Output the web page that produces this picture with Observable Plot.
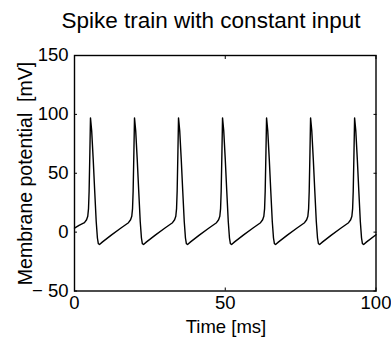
<!DOCTYPE html>
<html><head><meta charset="utf-8">
<script src="https://cdn.jsdelivr.net/npm/d3@7"></script>
<script src="https://cdn.jsdelivr.net/npm/@observablehq/plot@0.6"></script>
<style>
body{margin:0;background:#fff}
svg{font-family:"Liberation Sans",Arial,Helvetica,sans-serif}
</style>
</head><body><div id="chart"></div>
<script>
const titleText = "Spike train with constant input";
const xLabel = "Time [ms]";
const yLabel = "Membrane potential  [mV]";
const xTicks = [0, 50, 100];
const yTicks = [-50, 0, 50, 100, 150];

// time [ms]
const time = [
  0, 1.5, 3.3, 4.0, 4.4, 4.65, 4.85, 5.1, 5.3,
  5.7, 6.2, 6.7, 7.2, 7.6, 7.9, 8.3, 9.3, 12.3, 15.3, 17.9, 18.6, 19.0, 19.25, 19.45, 19.7, 19.9,
  20.3, 20.8, 21.3, 21.8, 22.2, 22.5, 22.9, 23.9, 26.9, 29.9, 32.5, 33.2, 33.6, 33.85, 34.05, 34.3, 34.5,
  34.9, 35.4, 35.9, 36.4, 36.8, 37.1, 37.5, 38.5, 41.5, 44.5, 47.1, 47.8, 48.2, 48.45, 48.65, 48.9, 49.1,
  49.5, 50.0, 50.5, 51.0, 51.4, 51.7, 52.1, 53.1, 56.1, 59.1, 61.7, 62.4, 62.8, 63.05, 63.25, 63.5, 63.7,
  64.1, 64.6, 65.1, 65.6, 66.0, 66.3, 66.7, 67.7, 70.7, 73.7, 76.3, 77.0, 77.4, 77.65, 77.85, 78.1, 78.3,
  78.7, 79.2, 79.7, 80.2, 80.6, 80.9, 81.3, 82.3, 85.3, 88.3, 90.9, 91.6, 92.0, 92.25, 92.45, 92.7, 92.9,
  93.3, 93.8, 94.3, 94.8, 95.2, 95.5, 95.9, 96.9, 100
];
// membrane potential [mV]
const voltage = [
  3.4, 5.8, 8.0, 10.5, 13.5, 20, 35, 68, 97,
  86, 62, 35, 9, -5, -9.8, -10.5, -8.3, -2.3, 3.3, 8.0, 10.5, 13.5, 20, 35, 68, 97,
  86, 62, 35, 9, -5, -9.8, -10.5, -8.3, -2.3, 3.3, 8.0, 10.5, 13.5, 20, 35, 68, 97,
  86, 62, 35, 9, -5, -9.8, -10.5, -8.3, -2.3, 3.3, 8.0, 10.5, 13.5, 20, 35, 68, 97,
  86, 62, 35, 9, -5, -9.8, -10.5, -8.3, -2.3, 3.3, 8.0, 10.5, 13.5, 20, 35, 68, 97,
  86, 62, 35, 9, -5, -9.8, -10.5, -8.3, -2.3, 3.3, 8.0, 10.5, 13.5, 20, 35, 68, 97,
  86, 62, 35, 9, -5, -9.8, -10.5, -8.3, -2.3, 3.3, 8.0, 10.5, 13.5, 20, 35, 68, 97,
  86, 62, 35, 9, -5, -9.8, -10.5, -8.3, -2.2
];

const data = time.map((t, i) => ({t, v: voltage[i]}));
const fmtY = d => d < 0 ? "\u2212 " + Math.abs(d) : String(d);

const W = 391, H = 339;
const plot = Plot.plot({
  width: W, height: H,
  marginLeft: 74, marginRight: 15.5, marginTop: 55, marginBottom: 48.5,
  x: {domain: [0, 100]},
  y: {domain: [-50, 150]},
  style: {fontFamily: '"Liberation Sans", Arial, sans-serif', fontSize: "18.5px", color: "#000", background: "#fff"},
  marks: [
    Plot.line(data, {x: "t", y: "v", stroke: "#000", strokeWidth: 1.4}),
    Plot.axisX({anchor: "bottom", ticks: xTicks, tickSize: 0, tickPadding: 5, tickFormat: d => String(d), label: null, fontSize: 18.5}),
    Plot.axisX({anchor: "bottom", ticks: xTicks, tickSize: -3, tickFormat: () => "", label: null, strokeWidth: 1}),
    Plot.axisX({anchor: "top", ticks: xTicks, tickSize: -3, tickFormat: () => "", label: null, strokeWidth: 1}),
    Plot.axisY({anchor: "left", ticks: yTicks, tickSize: 0, tickPadding: 6, tickFormat: fmtY, label: null, fontSize: 18.5}),
    Plot.axisY({anchor: "left", ticks: yTicks, tickSize: -3, tickFormat: () => "", label: null, strokeWidth: 1}),
    Plot.axisY({anchor: "right", ticks: yTicks, tickSize: -3, tickFormat: () => "", label: null, strokeWidth: 1}),
    Plot.frame({stroke: "#000", strokeWidth: 1.4})
  ]
});

const svg = d3.select(plot);
svg.append("text")
  .attr("x", 211).attr("y", 28)
  .attr("text-anchor", "middle")
  .style("font-size", "22.5px").style("fill", "#000")
  .text(titleText);
svg.append("text")
  .attr("x", 226).attr("y", 333)
  .attr("text-anchor", "middle")
  .style("font-size", "18.5px").style("fill", "#000")
  .text(xLabel);
svg.append("text")
  .attr("transform", "translate(31.5,173.5) rotate(-90)")
  .attr("text-anchor", "middle")
  .style("font-size", "19.5px").style("fill", "#000")
  .style("white-space", "pre")
  .text(yLabel);

document.getElementById("chart").appendChild(plot);
</script>
</body></html>
